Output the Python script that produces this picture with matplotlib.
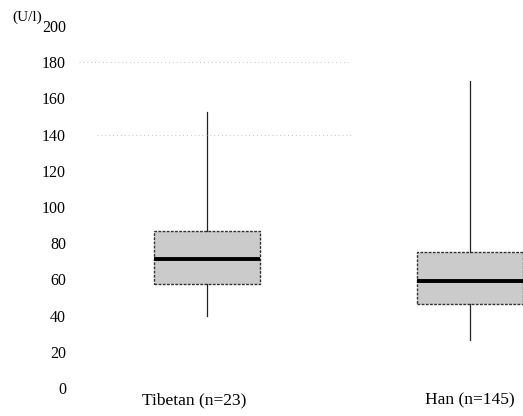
import matplotlib
matplotlib.use('Agg')
import matplotlib.pyplot as plt
import matplotlib.transforms as mtransforms

plt.rcParams['font.family'] = 'Liberation Serif'

# U/l
groups = ['Tibetan (n=23)', 'Han (n=145)']
whisker_low = [40, 26.5]
q1 = [57.5, 46.5]
median = [71.3, 59.1]
q3 = [87.0, 75.0]
whisker_high = [152.5, 169.5]

stats = []
for i, g in enumerate(groups):
    stats.append({'label': g, 'whislo': whisker_low[i], 'q1': q1[i], 'med': median[i],
                  'q3': q3[i], 'whishi': whisker_high[i], 'fliers': []})

fig = plt.figure(figsize=(5.23, 4.16), dpi=100)
ax = fig.add_axes([75 / 523, 28 / 416, 448 / 523, 362 / 416])

ax.bxp(stats, positions=[1, 2], widths=0.403, patch_artist=True, showcaps=False,
       boxprops=dict(facecolor='#cbcbcb', edgecolor='#333333', linewidth=1.0, linestyle=(0, (2, 1))),
       medianprops=dict(color='black', linewidth=2.8),
       whiskerprops=dict(color='#222222', linewidth=0.9))

# faint scan traces of gridlines
ax.axhline(180, xmin=0.01, xmax=0.61, color='#c4c4c4', linewidth=0.7, linestyle=(0, (1, 3)))
ax.axhline(140, xmin=0.05, xmax=0.62, color='#c4c4c4', linewidth=0.7, linestyle=(0, (1, 3)))

ax.set_xlim(1 - 132 / 263, 1 + 316 / 263)
ax.set_ylim(0, 200)
ax.set_yticks(range(0, 201, 20))
ax.tick_params(axis='y', length=0, pad=6.5, labelsize=11.5)
ax.tick_params(axis='x', length=0, pad=3, labelsize=12.5)
ax.set_xticks([1, 2])
ax.set_xticklabels(groups)
lbl = ax.get_xticklabels()[0]
lbl.set_transform(lbl.get_transform() + mtransforms.ScaledTranslation(-13 / 100, 0, fig.dpi_scale_trans))
for s in ax.spines.values():
    s.set_visible(False)

fig.text(12 / 523, 1 - 17 / 416, '(U/l)', fontsize=11, va='center', ha='left')

fig.savefig('out.png', dpi=100)
